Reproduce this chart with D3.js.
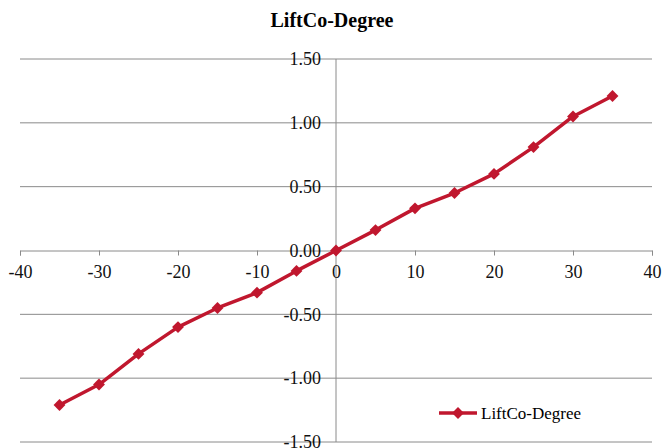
<!DOCTYPE html>
<html>
<head>
<meta charset="utf-8">
<script src="https://cdn.jsdelivr.net/npm/d3@7"></script>
<style>
  body { margin: 0; background: #fff; }
  svg { display: block; font-family: "Liberation Serif", "Times New Roman", serif; }
</style>
</head>
<body>
<figure id="chart" style="margin:0"></figure>
<script>
// angle of attack (deg) and lift coefficient
const degrees = [-35, -30, -25, -20, -15, -10, -5, 0, 5, 10, 15, 20, 25, 30, 35];
const liftCo = [-1.21, -1.05, -0.81, -0.60, -0.45, -0.33, -0.16, 0, 0.16, 0.33, 0.45, 0.60, 0.81, 1.05, 1.21];
const xTicks = [-40, -30, -20, -10, 0, 10, 20, 30, 40];
const yTicks = [-1.5, -1.0, -0.5, 0, 0.5, 1.0, 1.5];
const seriesName = "LiftCo-Degree";

const width = 664, height = 448;
const red = "#c0172e", grid = "#8a8a8a";

const svg = d3.select("#chart").append("svg")
  .attr("width", width)
  .attr("height", height);

const x = d3.scaleLinear().domain([-40, 40]).range([20, 652]);
const y = d3.scaleLinear().domain([-1.5, 1.5]).range([442, 59]);

// title
svg.append("text")
  .attr("x", 332).attr("y", 27)
  .attr("text-anchor", "middle")
  .attr("font-size", 20).attr("font-weight", "bold")
  .text(seriesName);

// horizontal gridlines
svg.append("g").selectAll("line")
  .data(yTicks.filter(d => d !== 0))
  .enter().append("line")
  .attr("x1", x(-40)).attr("x2", x(40))
  .attr("y1", d => y(d)).attr("y2", d => y(d))
  .attr("stroke", grid).attr("stroke-width", 1);

// vertical axis line
svg.append("line")
  .attr("x1", x(0)).attr("x2", x(0))
  .attr("y1", y(1.5)).attr("y2", y(-1.5))
  .attr("stroke", grid).attr("stroke-width", 1);

// x axis through zero
const xAxis = svg.append("g")
  .attr("transform", "translate(0," + y(0) + ")")
  .call(d3.axisBottom(x).tickValues(xTicks).tickFormat(d => String(d))
    .tickSize(5).tickPadding(10));
xAxis.selectAll("path, line").attr("stroke", grid);
xAxis.selectAll("text").attr("font-size", 18).attr("fill", "#111")
  .style("font-family", "'Liberation Serif', 'Times New Roman', serif");

// y labels beside the vertical axis
const yAxis = svg.append("g")
  .attr("transform", "translate(" + x(0) + ",0)")
  .call(d3.axisLeft(y).tickValues(yTicks).tickFormat(d => d.toFixed(2))
    .tickSize(0).tickPadding(15));
yAxis.select(".domain").remove();
yAxis.selectAll("text").attr("font-size", 18).attr("fill", "#111")
  .style("font-family", "'Liberation Serif', 'Times New Roman', serif");

// series
const line = d3.line()
  .x((d, i) => x(degrees[i]))
  .y(d => y(d));

svg.append("path")
  .datum(liftCo)
  .attr("d", line)
  .attr("fill", "none")
  .attr("stroke", red)
  .attr("stroke-width", 3.5)
  .attr("stroke-linejoin", "round");

const diamond = d3.symbol().type(d3.symbolDiamond2).size(90);
svg.append("g").selectAll("path")
  .data(liftCo)
  .enter().append("path")
  .attr("d", diamond)
  .attr("transform", (d, i) => "translate(" + x(degrees[i]) + "," + y(d) + ")")
  .attr("fill", red);

// legend
const legend = svg.append("g").attr("transform", "translate(439,413)");
legend.append("line")
  .attr("x1", 0).attr("x2", 38)
  .attr("stroke", red).attr("stroke-width", 3.5);
legend.append("path")
  .attr("d", diamond)
  .attr("transform", "translate(19,0)")
  .attr("fill", red);
legend.append("text")
  .attr("x", 42).attr("y", 6)
  .attr("font-size", 17)
  .text(seriesName);
</script>
</body>
</html>
